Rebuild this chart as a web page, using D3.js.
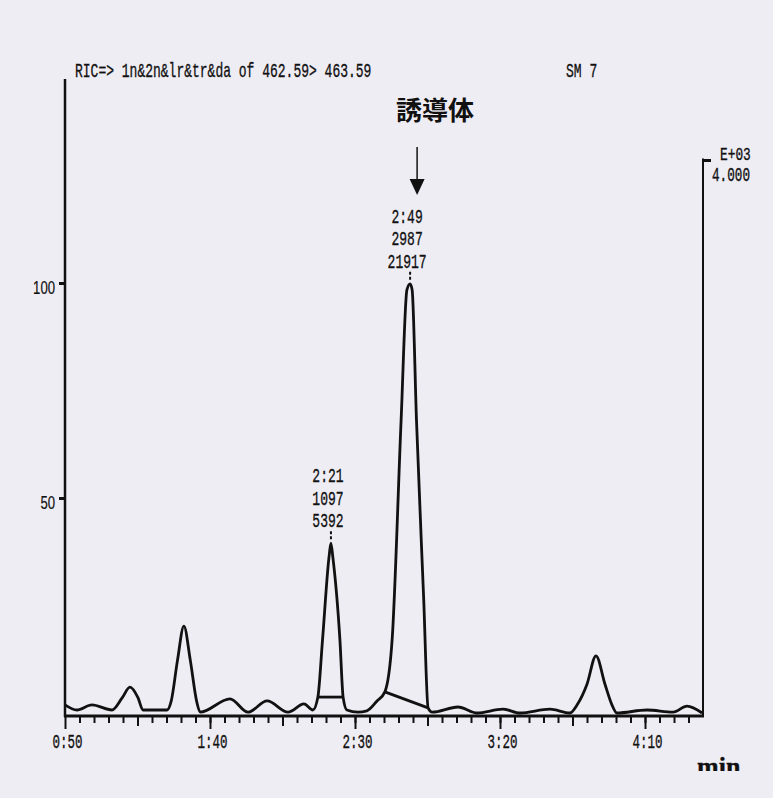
<!DOCTYPE html>
<html>
<head>
<meta charset="utf-8">
<script src="https://cdnjs.cloudflare.com/ajax/libs/d3/7.8.5/d3.min.js"></script>
<style>
  body { margin: 0; background: #fff; }
  svg text { font-family: "Liberation Mono", monospace; fill: #111; stroke: #111; stroke-width: 0.35px; }
</style>
</head>
<body>
<div id="chart"></div>
<script>
// trace: retention time (s) and relative intensity (%)
var times = [50, 54.1, 59.3, 66.2, 69.7, 72.4, 75.2, 76.9, 85.2, 86.6, 88.8, 91.0, 93.2, 95.4, 96.6,
  106.9, 113.1, 119.7, 126.9, 132.4, 135.5, 137.2, 138.8, 141.0, 141.7, 142.4, 144.8, 145.9, 147.2,
  151, 154.1, 157.6, 160.3, 162.8, 165.9, 167.9, 169, 169.7, 171.2, 173.7, 175.2, 176.6,
  185.5, 192.1, 201, 206.9, 217.2, 224.1, 226.6, 230.0, 233.1, 236.2, 238.6, 240.3,
  250.7, 259.7, 264.5, 269.7];
var intensities = [1.9, 0.7, 1.9, 0.7, 3.5, 6.0, 3.5, 0.7, 0.7, 2.7, 12.3, 20.2, 12.3, 2.7, 0.2,
  3.3, 0.2, 2.8, 0.2, 2.1, 0.7, 3.7, 17, 36, 39.5, 36, 17, 3.7, 0.7,
  0.2, 0.5, 2.8, 4.9, 17, 68.1, 98.4, 99.8, 98.4, 68.1, 26.3, 1.2, 0.2,
  1.4, 0, 0.9, 0, 0.9, 0, 1.9, 6.7, 13.3, 6.7, 1.9, 0,
  0.7, 0.2, 1.6, 0];

// integrated peaks
var peakTimes = [141.7, 169];
var peakHeights = [39.5, 99.8];
var peakLabels = [["2:21", "1097", "5392"], ["2:49", "2987", "21917"]];
var peakBaseStart = [[137.2, 3.7], [160.3, 4.9]];
var peakBaseEnd = [[145.9, 3.7], [175.2, 1.2]];

// axes
var xTickValues = [50, 100, 150, 200, 250];
var xTickLabels = ["0:50", "1:40", "2:30", "3:20", "4:10"];
var yTickValues = [50, 100];
var rightTickValues = [4.0];

var width = 773, height = 798;

var svg = d3.select("#chart")
  .append("svg")
    .attr("width", width)
    .attr("height", height);

svg.append("rect")
    .attr("width", width)
    .attr("height", height)
    .attr("fill", "#efedf4");

var x = d3.scaleLinear().domain([50, 270]).range([65, 703]);
var y = d3.scaleLinear().domain([0, 100]).range([713, 283]);
var yRight = d3.scaleLinear().domain([0, 4.0]).range([y(0), y(128.6)]);

// squeeze the typewriter text to a fixed pitch
function squeeze(sel, pitch) {
  sel.each(function() {
    var n = this.textContent.length;
    d3.select(this)
      .attr("textLength", n * pitch)
      .attr("lengthAdjust", "spacingAndGlyphs");
  });
}

// header
svg.append("text")
    .attr("x", 75).attr("y", 77)
    .style("font-size", "21px")
    .text("RIC=> 1n&2n&lr&tr&da of 462.59> 463.59")
    .call(squeeze, 7.8);

svg.append("text")
    .attr("x", 566).attr("y", 77)
    .style("font-size", "21px")
    .text("SM 7")
    .call(squeeze, 7.8);

// bottom axis: minor, medium, major ticks
var base = y(0) + 3;
var gMinor = svg.append("g")
    .attr("transform", "translate(0," + base + ")")
    .call(d3.axisBottom(x).tickValues(d3.range(55, 270, 5)).tickSize(7).tickFormat(""));
var gMid = svg.append("g")
    .attr("transform", "translate(0," + base + ")")
    .call(d3.axisBottom(x).tickValues([75, 125, 175, 225]).tickSize(10).tickFormat(""));
var gMajor = svg.append("g")
    .attr("transform", "translate(0," + base + ")")
    .call(d3.axisBottom(x).tickValues(xTickValues).tickSize(13)
      .tickFormat(function(d, i) { return xTickLabels[i]; }));
[gMinor, gMid, gMajor].forEach(function(g) {
  g.select(".domain").remove();
  g.selectAll("line").attr("stroke", "#111").attr("stroke-width", 2);
});
gMajor.selectAll("text")
    .attr("y", 32).attr("dy", 0).attr("x", 2)
    .style("font-size", "21px")
    .call(squeeze, 7.5);

svg.append("line")
    .attr("x1", x(50) - 1).attr("x2", x(270) + 1)
    .attr("y1", base).attr("y2", base)
    .attr("stroke", "#111").attr("stroke-width", 3);

// left axis
var gLeft = svg.append("g")
    .attr("transform", "translate(" + x(50) + ",0)")
    .call(d3.axisLeft(y).tickValues(yTickValues).tickSize(6).tickPadding(4));
gLeft.select(".domain").remove();
gLeft.selectAll("line").attr("stroke", "#111").attr("stroke-width", 3);
gLeft.selectAll("text")
    .attr("y", 10).attr("dy", 0)
    .style("font-family", "'Liberation Sans', sans-serif")
    .style("font-size", "19px")
    .style("stroke-width", "0.2px")
    .call(squeeze, 7.3);

svg.append("line")
    .attr("x1", x(50)).attr("x2", x(50))
    .attr("y1", 79).attr("y2", base + 1)
    .attr("stroke", "#111").attr("stroke-width", 2.5);

// right axis
var gRight = svg.append("g")
    .attr("transform", "translate(" + x(270) + ",0)")
    .call(d3.axisRight(yRight).tickValues(rightTickValues).tickSize(8)
      .tickFormat(d3.format(".3f")));
gRight.select(".domain").remove();
gRight.selectAll("line").attr("stroke", "#111").attr("stroke-width", 3);
gRight.selectAll("text")
    .attr("x", 9).attr("y", 20).attr("dy", 0)
    .style("font-size", "20px")
    .call(squeeze, 7.6);

svg.append("text")
    .attr("x", x(270) + 17).attr("y", yRight(4.0))
    .style("font-size", "18px")
    .text("E+03")
    .call(squeeze, 7.7);

svg.append("line")
    .attr("x1", x(270)).attr("x2", x(270))
    .attr("y1", yRight(4.0) - 1.5).attr("y2", base + 1)
    .attr("stroke", "#111").attr("stroke-width", 2);

// axis unit, cut by the scan edge
svg.append("clipPath").attr("id", "scan")
  .append("rect").attr("width", width).attr("height", 771);
svg.append("text")
    .attr("x", 697).attr("y", 775)
    .attr("clip-path", "url(#scan)")
    .style("font-family", "'Liberation Serif', serif")
    .style("font-weight", "bold")
    .style("font-size", "26px")
    .text("min");

// trace
var pts = times.map(function(t, i) { return [t, intensities[i]]; });
var line = d3.line()
    .x(function(d) { return x(d[0]); })
    .y(function(d) { return y(d[1]); })
    .curve(d3.curveMonotoneX);

svg.append("path")
    .datum(pts)
    .attr("d", line)
    .attr("fill", "none")
    .attr("stroke", "#111")
    .attr("stroke-width", 2.8)
    .attr("stroke-linejoin", "round");

// peak integration baselines
peakBaseStart.forEach(function(s, i) {
  var e = peakBaseEnd[i];
  svg.append("line")
      .attr("x1", x(s[0])).attr("y1", y(s[1]))
      .attr("x2", x(e[0])).attr("y2", y(e[1]))
      .attr("stroke", "#111").attr("stroke-width", 2.8);
});

// peak labels
peakTimes.forEach(function(t, i) {
  var px = x(t), py = y(peakHeights[i]);
  svg.append("line")
      .attr("x1", px).attr("x2", px)
      .attr("y1", py - 12).attr("y2", py - 3)
      .attr("stroke", "#111").attr("stroke-width", 2)
      .attr("stroke-dasharray", "3,2");
  peakLabels[i].forEach(function(s, j) {
    svg.append("text")
        .attr("x", px - 3).attr("y", py - 61 + j * 22.5)
        .attr("text-anchor", "middle")
        .style("font-size", "21px")
        .text(s)
        .call(squeeze, 7.8);
  });
});

// derivative annotation
var ax = x(169) + 7;
svg.append("text")
    .attr("x", 435).attr("y", 120)
    .attr("text-anchor", "middle")
    .style("font-family", "'Noto Sans CJK JP', sans-serif")
    .style("font-weight", "bold")
    .style("font-size", "26px")
    .style("stroke-width", "0px")
    .text("誘導体");
svg.append("line")
    .attr("x1", ax).attr("x2", ax)
    .attr("y1", 147).attr("y2", 181)
    .attr("stroke", "#111").attr("stroke-width", 1.5);
svg.append("path")
    .attr("d", "M" + (ax - 7.5) + ",179L" + (ax + 7.5) + ",179L" + ax + ",195Z")
    .attr("fill", "#111");
</script>
</body>
</html>
